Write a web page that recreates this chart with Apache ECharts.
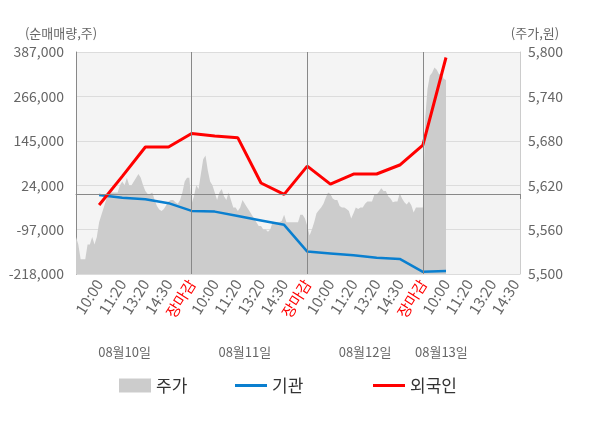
<!DOCTYPE html>
<html><head><meta charset="utf-8">
<script src="https://cdn.jsdelivr.net/npm/echarts@6/dist/echarts.min.js"></script>
<style>html,body{margin:0;padding:0;background:#fff}#c{width:600px;height:428px}</style>
</head><body><div id="c"></div>
<script>
const xTickLabels = ['10:00','11:20','13:20','14:30','장마감','10:00','11:20','13:20','14:30','장마감','10:00','11:20','13:20','14:30','장마감','10:00','11:20','13:20','14:30'];
const dates = ['08월10일','08월11일','08월12일','08월13일'];
const price = [
5550,5540,5520,5520,5520,5540,5540,5550,5540,5550,
5570,5580,5590,5600,5610,5610,5610,5610,5610,5620,
5625,5620,5630,5620,5620,5625,5630,5635,5630,5620,
5612,5608,5608,5610,5600,5592,5587,5585,5588,5593,
5598,5600,5600,5597,5595,5600,5610,5625,5630,5630,
5595,5605,5620,5615,5635,5655,5660,5640,5625,5620,
5610,5600,5610,5615,5605,5600,5610,5600,5590,5590,
5585,5590,5600,5595,5590,5585,5580,5575,5570,5565,
5565,5560,5560,5557,5560,5570,5570,5570,5570,5572,
5580,5570,5570,5570,5570,5570,5570,5580,5580,5575,
5565,5552,5560,5570,5582,5586,5590,5595,5603,5610,
5608,5602,5600,5600,5592,5590,5590,5588,5585,5575,
5582,5590,5588,5590,5590,5595,5598,5598,5598,5607,
5607,5611,5616,5612,5612,5605,5602,5597,5598,5598,
5609,5602,5597,5594,5598,5593,5583,5590,5590,5590,
5590,5710,5750,5768,5772,5779,5776,5770,5771,5764,
5762];
const institution = [-3000,-10000,-14500,-25000,-46000,-48000,-60000,-72000,-84000,-157000,-162000,-167000,-174000,-177000,-212000,-210000];
const foreign = [-30000,48000,128000,128000,165000,158000,153000,30000,-1000,76000,27000,54500,54500,79000,133000,372000];

const SLOT = 10;
const N = 193;
const cats = [];
for (let i = 0; i < N; i++) {
  const k = i / SLOT;
  cats.push(i > 0 && i % SLOT === 0 && k <= xTickLabels.length ? xTickLabels[k - 1] : '');
}
const dateIdx = [21, 73, 125, 158];
const dateCats = cats.map((_, i) => { const d = dateIdx.indexOf(i); return d >= 0 ? dates[d] : ''; });
const toPairs = arr => arr.map((v, k) => [(k + 1) * SLOT, v]);
const fmt = v => String(v).replace(/\B(?=(\d{3})+(?!\d))/g, ',');
const FONT = "'Noto Sans CJK KR','Noto Sans',sans-serif";

const chart = echarts.init(document.getElementById('c'));
const legendBase = { top: 372, itemWidth: 32, textStyle: { fontSize: 17, color: '#333', fontFamily: FONT }, selectedMode: false };
chart.setOption({
  animation: false,
  textStyle: { fontFamily: FONT },
  grid: { left: 76, right: 80, top: 52, bottom: 154, show: true, backgroundColor: '#f4f4f4', borderWidth: 0 },
  legend: [
    Object.assign({}, legendBase, { left: 114, itemHeight: 14, data: [{ name: '주가', icon: 'rect' }] }),
    Object.assign({}, legendBase, { left: 230, itemHeight: 3, data: [{ name: '기관', icon: 'rect' }] }),
    Object.assign({}, legendBase, { left: 368, itemHeight: 3, data: [{ name: '외국인', icon: 'rect' }] })
  ],
  xAxis: [{
    type: 'category', data: cats, boundaryGap: false,
    axisLine: { lineStyle: { color: '#888' } },
    axisTick: { interval: (i) => i % 50 === 0 || i === N - 1, length: 5, lineStyle: { color: '#888' } },
    axisLabel: {
      interval: (i, v) => v !== '', rotate: 58, fontSize: 15, margin: 7,
      color: (v, i) => v === '장마감' ? '#ff0000' : (i === 160 ? '#222' : '#666')
    },
    splitLine: { show: false }
  }, {
    type: 'category', data: dateCats, boundaryGap: false, position: 'bottom', offset: 66,
    axisLine: { show: false }, axisTick: { show: false },
    axisLabel: { interval: 0, fontSize: 13, color: '#666', margin: 6 }
  }],
  yAxis: [{
    type: 'value', min: -218000, max: 387000, interval: 121000,
    name: '(순매매량,주)', nameLocation: 'end', nameGap: 12,
    nameTextStyle: { fontSize: 13, color: '#666', align: 'center', padding: [0, 30, 0, 0] },
    axisLine: { show: true, lineStyle: { color: '#888' } }, axisTick: { show: false },
    axisLabel: { formatter: fmt, fontSize: 14, color: '#666', margin: 12 },
    splitLine: { lineStyle: { color: '#dcdcdc' } }
  }, {
    type: 'value', min: 5500, max: 5800, interval: 60, position: 'right',
    name: '(주가,원)', nameLocation: 'end', nameGap: 12,
    nameTextStyle: { fontSize: 13, color: '#666', align: 'center', padding: [0, 0, 0, 30] },
    axisLine: { show: true, lineStyle: { color: '#ccc' } }, axisTick: { show: false },
    axisLabel: { formatter: fmt, fontSize: 14, color: '#666', margin: 8 },
    splitLine: { show: false }
  }],
  series: [{
    name: '주가', type: 'line', yAxisIndex: 1, data: price, symbol: 'none',
    lineStyle: { width: 0 }, itemStyle: { color: '#cccccc' },
    areaStyle: { color: '#cccccc', opacity: 1 },
    markLine: { silent: true, symbol: 'none', label: { show: false },
      lineStyle: { color: '#888', width: 1, type: 'solid' },
      data: [{ xAxis: 50 }, { xAxis: 100 }, { xAxis: 150 }] }
  }, {
    name: '기관', type: 'line', yAxisIndex: 0, data: toPairs(institution), symbol: 'none',
    lineStyle: { width: 2.5, color: '#0a7fcf' }, itemStyle: { color: '#0a7fcf' },
    markLine: { silent: true, symbol: 'none', label: { show: false },
      lineStyle: { color: '#888', width: 1, type: 'solid' }, data: [{ yAxis: 0 }] }
  }, {
    name: '외국인', type: 'line', yAxisIndex: 0, data: toPairs(foreign), symbol: 'none',
    lineStyle: { width: 3, color: '#ff0000' }, itemStyle: { color: '#ff0000' }
  }]
});
</script></body></html>
